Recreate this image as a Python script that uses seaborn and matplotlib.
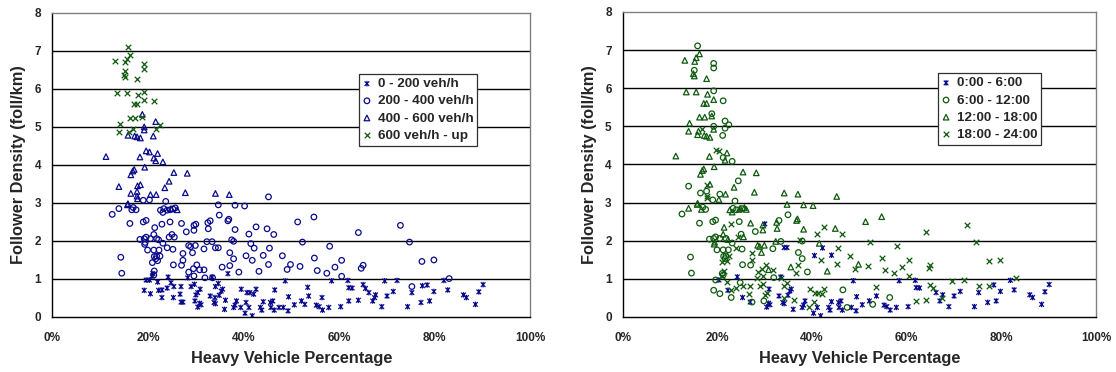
import numpy as np
import pandas as pd
import seaborn as sns
import matplotlib.pyplot as plt
from matplotlib.path import Path
from matplotlib.ticker import FuncFormatter

# heavy vehicle % / follower density / time of day code, per flow class
# time codes: B = 0-6h, C = 6-12h, T = 12-18h, X = 18-24h
hv_600 = [15.8, 13.1, 15.5, 16.2, 15.2, 19.2, 19.2, 15.1, 14.9, 15.1, 17.7, 13.4, 15.5, 19.2,
          17.9, 19.2, 21.2, 17.1, 17.7, 16.2, 17.3, 18.8, 14.1, 13.9, 16.8, 16.0, 22.4, 21.6]
fd_600 = [7.11, 6.73, 6.80, 6.90, 6.70, 6.65, 6.53, 6.47, 6.38, 6.32, 6.25, 5.90, 5.90, 5.93,
          5.84, 5.70, 5.67, 5.60, 5.60, 5.24, 5.24, 5.27, 5.08, 4.87, 4.94, 4.87, 5.04, 4.95]
tp_600 = list("CTTTTCCCTTTTTC" "TTCTTTTTTTXTCC")

hv_400 = [18.8, 21.6, 19.2, 19.2, 15.8, 17.2, 17.7, 18.4, 21.1, 11.2, 19.6, 20.3, 22.0, 21.2,
          21.6, 18.3, 23.1, 19.3, 17.1, 16.8, 16.4, 25.4, 28.2, 24.4, 13.9, 23.5, 17.8, 18.4,
          16.4, 17.7, 17.7, 17.8, 20.5, 21.7, 27.8, 34.1, 37.0, 15.8, 15.7, 24.8, 26.1]
fd_400 = [5.33, 5.14, 5.00, 4.92, 4.78, 4.76, 4.74, 4.71, 4.76, 4.22, 4.37, 4.34, 4.30, 4.18,
          4.11, 4.21, 4.08, 3.94, 3.88, 3.84, 3.74, 3.80, 3.78, 3.57, 3.43, 3.40, 3.45, 3.48,
          3.25, 3.30, 3.18, 3.11, 3.22, 3.22, 3.27, 3.25, 3.22, 2.98, 2.95, 2.85, 2.82]
tp_400 = list("CCCTTTTTCTXXTC" "TTCTTTTTTCCTXT" "CCXXCTTTTTTTT")

hv_200 = [19.0, 20.3, 23.7, 45.2, 34.7, 38.2, 40.2, 12.5, 13.9, 16.6, 16.9, 17.5, 22.6, 23.3,
          24.0, 24.6, 25.2, 25.7, 23.1, 16.2, 19.0, 19.6, 21.4, 22.9, 24.6, 27.0, 29.6, 30.0,
          32.5, 33.0, 36.7, 36.9, 34.9, 42.6, 44.9, 51.3, 54.7, 64.0, 72.8, 28.0, 29.6, 32.6,
          38.2, 41.1, 46.3, 21.2, 19.6, 19.2, 18.3, 20.5, 21.8, 22.2, 25.0, 25.5, 24.4, 19.4,
          19.3, 23.1, 32.3, 33.4, 37.5, 37.9, 41.5, 52.3, 58.0, 74.7, 19.9, 21.2, 22.3, 24.0,
          25.2, 28.5, 28.9, 29.9, 29.3, 31.7, 34.1, 34.7, 37.1, 42.2, 45.4, 21.3, 21.8, 21.6,
          22.5, 22.0, 27.3, 27.3, 37.9, 40.5, 41.8, 44.1, 48.1, 54.8, 60.5, 79.8, 77.3, 14.3,
          20.9, 25.3, 27.0, 30.2, 29.5, 35.5, 37.1, 45.2, 49.8, 51.8, 59.1, 65.0, 64.6, 49.1,
          55.4, 57.4, 43.2, 39.0, 30.8, 31.7, 28.5, 14.5, 21.3, 21.2, 60.5, 83.0, 75.2, 29.6,
          31.9, 33.5]
fd_200 = [3.07, 3.08, 3.04, 3.16, 2.95, 2.94, 2.92, 2.70, 2.85, 2.82, 2.88, 2.82, 2.81, 2.85,
          2.81, 2.82, 2.84, 2.87, 2.75, 2.46, 2.50, 2.54, 2.35, 2.44, 2.50, 2.46, 2.41, 2.44,
          2.48, 2.53, 2.53, 2.57, 2.68, 2.37, 2.32, 2.50, 2.63, 2.22, 2.41, 2.24, 2.28, 2.32,
          2.30, 2.18, 2.17, 2.17, 2.10, 2.06, 2.04, 2.06, 2.06, 2.03, 2.17, 2.10, 2.10, 1.96,
          1.91, 1.94, 1.98, 1.98, 2.03, 1.99, 1.93, 1.97, 1.86, 1.97, 1.76, 1.76, 1.76, 1.82,
          1.78, 1.88, 1.85, 1.88, 1.69, 1.79, 1.82, 1.82, 1.69, 1.81, 1.81, 1.59, 1.60, 1.53,
          1.60, 1.48, 1.67, 1.49, 1.53, 1.61, 1.49, 1.62, 1.61, 1.55, 1.49, 1.50, 1.46, 1.57,
          1.43, 1.37, 1.36, 1.37, 1.27, 1.31, 1.35, 1.38, 1.38, 1.33, 1.31, 1.36, 1.28, 1.25,
          1.22, 1.15, 1.20, 1.18, 1.24, 1.24, 1.18, 1.15, 1.21, 1.10, 1.07, 1.01, 0.80, 1.08,
          1.03, 1.03]
tp_200 = list("CTCTTTTCTTCCTC" "CTCTTCCCTXCTTB" "TCTTCXTTTXXCTT" "TXXTCCCCCTCTXT"
              "TCTCXCTXXXCCCX" "CTTTTCBBCBXCCC" "XXXXCBXBXXXXXC" "XCCXXTXXTXXXXX"
              "XXTCTXXCXCXXXX" "CX")

hv_0 = [19.6, 20.3, 20.9, 21.0, 24.2, 28.3, 33.4, 36.7, 48.7, 58.4, 61.8, 69.5, 72.1, 81.9,
        22.0, 24.8, 29.7, 34.7, 65.0, 90.1, 19.2, 20.5, 22.2, 22.9, 25.4, 24.0, 26.9, 29.0,
        30.9, 34.1, 35.6, 39.5, 40.7, 41.3, 42.6, 42.1, 46.5, 53.4, 62.0, 62.7, 65.5, 66.2,
        67.6, 71.3, 75.2, 77.4, 78.4, 79.8, 82.7, 89.2, 22.9, 25.3, 26.7, 30.0, 30.4, 33.0,
        34.0, 34.9, 35.3, 49.4, 53.6, 56.4, 64.0, 70.0, 67.4, 86.0, 86.6, 26.9, 27.3, 29.8,
        30.8, 31.1, 33.8, 34.1, 36.2, 38.5, 38.2, 40.5, 44.1, 45.6, 46.1, 52.1, 52.8, 55.2,
        62.0, 67.0, 77.1, 78.9, 88.5, 30.4, 36.0, 37.9, 39.4, 41.1, 43.5, 43.8, 45.7, 46.4,
        47.4, 48.3, 49.3, 50.6, 55.8, 56.5, 57.8, 60.3, 68.9, 74.3, 40.3, 41.8]
fd_0 = [0.97, 0.97, 1.08, 1.14, 1.05, 1.03, 1.05, 1.14, 0.95, 0.95, 0.96, 0.95, 0.96, 0.96,
        0.92, 0.90, 0.86, 0.88, 0.85, 0.85, 0.70, 0.61, 0.70, 0.71, 0.80, 0.76, 0.80, 0.80,
        0.73, 0.80, 0.73, 0.73, 0.64, 0.64, 0.73, 0.60, 0.71, 0.78, 0.77, 0.76, 0.75, 0.64,
        0.58, 0.67, 0.64, 0.82, 0.84, 0.67, 0.71, 0.66, 0.51, 0.51, 0.60, 0.58, 0.64, 0.55,
        0.51, 0.57, 0.68, 0.53, 0.55, 0.51, 0.44, 0.55, 0.51, 0.58, 0.51, 0.39, 0.39, 0.42,
        0.36, 0.32, 0.38, 0.35, 0.44, 0.42, 0.31, 0.38, 0.40, 0.38, 0.42, 0.42, 0.33, 0.31,
        0.42, 0.42, 0.38, 0.42, 0.33, 0.26, 0.20, 0.25, 0.25, 0.25, 0.25, 0.18, 0.25, 0.18,
        0.25, 0.25, 0.16, 0.32, 0.27, 0.18, 0.25, 0.27, 0.27, 0.27, 0.10, 0.03]
tp_0 = list("CBXCBXBXBBBXXB" "XCXXXBCCBXXXXX" "BXBXXXXXCXBBXB" "BBBXBBBBCBXXXB"
            "XBBBBCXBXBBBCC" "BBBBXBBXBBBBCB" "XBBBBBBBXBBBBB" "CBBBBBBBBBBB")

flow_labels = ['0 - 200 veh/h', '200 - 400 veh/h', '400 - 600 veh/h', '600 veh/h - up']
time_labels = ['0:00 - 6:00', '6:00 - 12:00', '12:00 - 18:00', '18:00 - 24:00']
code_to_time = dict(zip('BCTX', time_labels))

frames = []
for lab, hv, fd, tp in zip(flow_labels, [hv_0, hv_200, hv_400, hv_600],
                           [fd_0, fd_200, fd_400, fd_600], [tp_0, tp_200, tp_400, tp_600]):
    frames.append(pd.DataFrame({'hv': hv, 'fd': fd, 'flow': lab,
                                'period': [code_to_time[c] for c in tp]}))
df = pd.concat(frames, ignore_index=True)

navy = '#0a0a8c'
green = '#0f5a0f'
star = Path([(-1, -1), (1, 1), (-1, 1), (1, -1), (0, -1.2), (0, 1.2)],
            [Path.MOVETO, Path.LINETO] * 3)

flow_style = {'0 - 200 veh/h': (star, navy), '200 - 400 veh/h': ('o', navy),
              '400 - 600 veh/h': ('^', navy), '600 veh/h - up': ('x', green)}
time_style = {'0:00 - 6:00': (star, navy), '6:00 - 12:00': ('o', green),
              '12:00 - 18:00': ('^', green), '18:00 - 24:00': ('x', green)}

sns.set_style('white')
plt.rcParams['font.family'] = ['Liberation Sans', 'DejaVu Sans']
plt.rcParams['font.weight'] = 'bold'

fig = plt.figure(figsize=(11.16, 3.72), dpi=100)
ax1 = fig.add_axes([0.047, 0.148, 0.4283, 0.8172])
ax2 = fig.add_axes([0.5581, 0.148, 0.4240, 0.8199])


def draw(ax, col, styles, order, leg_x):
    for lab in order:
        m, c = styles[lab]
        sub = df[df[col] == lab]
        if m == 'x':
            kw = dict(color=c, s=16, linewidth=0.9)
        else:
            kw = dict(color=c, facecolors='none', edgecolor=c, s=16, linewidth=0.9)
        sns.scatterplot(data=sub, x='hv', y='fd', marker=m, ax=ax, label=lab,
                        legend=False, zorder=3, **kw)
    ax.set_xlim(0, 100)
    ax.set_ylim(0, 8)
    ax.set_yticks(range(0, 9))
    ax.set_xticks(range(0, 101, 20))
    ax.xaxis.set_major_formatter(FuncFormatter(lambda v, _: f'{v:.0f}%'))
    for y in range(1, 8):
        ax.axhline(y, color='black', lw=1.0, zorder=1)
    for s in ['top', 'right']:
        ax.spines[s].set_color('#808080')
    for s in ['left', 'bottom']:
        ax.spines[s].set_color('black')
    for s in ax.spines.values():
        s.set_linewidth(1.0)
    ax.tick_params(axis='x', direction='in', length=4, width=1, pad=11, labelsize=8.5)
    ax.tick_params(axis='y', length=0, pad=8, labelsize=8.5)
    for t in ax.get_xticklabels() + ax.get_yticklabels():
        t.set_fontweight('bold')
    ax.set_xlabel('Heavy Vehicle Percentage', fontsize=11.8, fontweight='bold', labelpad=5)
    ax.set_ylabel('Follower Density (foll/km)', fontsize=11.8, fontweight='bold', labelpad=6)
    leg = ax.legend(loc='upper left', bbox_to_anchor=(leg_x, 0.80), borderaxespad=0,
                    fancybox=False, framealpha=1, edgecolor='#303030',
                    handlelength=0.6, handletextpad=0.5, labelspacing=0.35,
                    borderpad=0.3, prop={'weight': 'bold', 'size': 9.7})
    leg.get_frame().set_linewidth(0.9)
    leg.set_zorder(5)


draw(ax1, 'flow', flow_style, flow_labels, 0.641)
draw(ax2, 'period', time_style, time_labels, 0.666)

fig.savefig('out.png', dpi=100)
